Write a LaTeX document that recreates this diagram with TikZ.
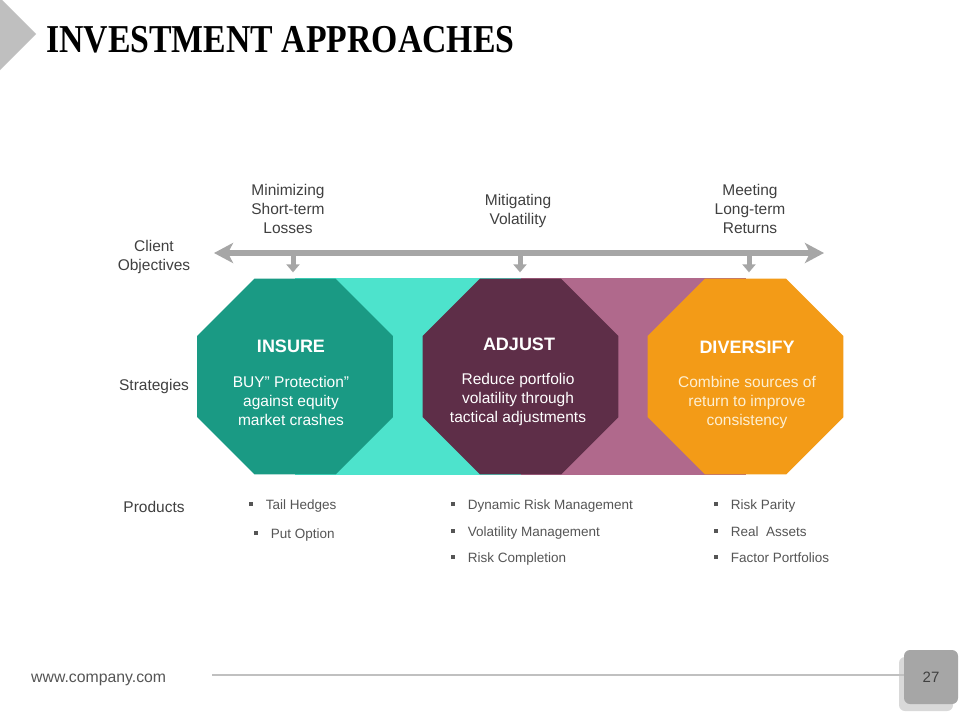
\documentclass[tikz,border=0pt]{standalone}
\usepackage{fontspec}
\setmainfont{Liberation Sans}
\newfontfamily\titlefont{Liberation Serif}
\usetikzlibrary{arrows.meta,shapes.geometric}
\definecolor{tealA}{HTML}{1A9A84}
\definecolor{cyanA}{HTML}{4DE3CC}
\definecolor{plumA}{HTML}{5E2E48}
\definecolor{mauveA}{HTML}{B0698C}
\definecolor{orangeA}{HTML}{F39B17}
\definecolor{creamA}{HTML}{FDEFD2}
\definecolor{txtgray}{HTML}{404040}
\definecolor{prodgray}{HTML}{555555}
\definecolor{arrgray}{HTML}{A6A6A6}
\definecolor{chevgray}{HTML}{BFBFBF}
\definecolor{linegray}{HTML}{C0C0C0}
\definecolor{boxgray}{HTML}{A6A6A6}
\definecolor{shadgray}{HTML}{D9D9D9}
\tikzset{
  lbl/.style={text=txtgray, font=\fontsize{15.5}{19}\selectfont, align=center, inner sep=0},
  octo/.style={regular polygon, regular polygon sides=8, minimum size=212pt, inner sep=0, draw=none},
  octtitle/.style={font=\bfseries\fontsize{18}{22}\selectfont, text=white, inner sep=0},
  octbody/.style={font=\fontsize{15.5}{19}\selectfont, align=center, inner sep=0},
  prod/.style={font=\fontsize{13.5}{16}\selectfont, text=prodgray, anchor=base west, inner sep=0},
  mainarrow/.style={draw=arrgray, line width=6pt, {Stealth[length=19pt,width=20pt,inset=5pt]}-{Stealth[length=19pt,width=20pt,inset=5pt]}},
  downarrow/.style={draw=arrgray, line width=5pt, -{Triangle[length=8pt,width=13pt]}},
  pagebox/.style={fill=boxgray, rounded corners=6pt, minimum width=54pt, minimum height=54pt, inner sep=0, text=txtgray, font=\fontsize{15}{18}\selectfont},
}
\newcommand{\bsq}{\raisebox{3pt}{\rule{3.6pt}{3.8pt}}\hspace{13pt}}
\begin{document}
\begin{tikzpicture}[x=1pt,y=-1pt]
\useasboundingbox (0,0) rectangle (960,720);
\fill[white] (0,0) rectangle (960,720);
% title chevron
\fill[chevgray] (0,-2) -- (36,34) -- (0,70) -- cycle;
\node[anchor=base west, inner sep=0, font=\titlefont\bfseries\fontsize{39.5}{44}\selectfont] (title) at (46,52) {\scalebox{0.855}[1]{INVESTMENT APPROACHES}};

% octagons and bands
\node[octo] (ins) at (295,376.5) {};
\node[octo] (adj) at (520.5,376.5) {};
\node[octo] (div) at (745.5,376.5) {};
\fill[cyanA] (ins.center |- ins.north) rectangle (adj.center |- adj.south);
\fill[mauveA] (adj.center |- adj.north) rectangle (div.center |- div.south);
\node[octo, fill=tealA] at (ins) {};
\node[octo, fill=plumA] at (adj) {};
\node[octo, fill=orangeA] at (div) {};

\node[octtitle] (insT) at (291,346) {INSURE};
\node[octbody, text=white] (insB) at (291,401) {BUY” Protection”\\against equity\\market crashes};
\node[octtitle] (adjT) at (519,344) {ADJUST};
\node[octbody, text=white] (adjB) at (518,399) {Reduce portfolio\\volatility through\\tactical adjustments};
\node[octtitle] (divT) at (747,347) {DIVERSIFY};
\node[octbody, text=creamA] (divB) at (747,402) {Combine sources of\\return to improve\\consistency};

% objectives
\node[lbl] (o1) at (288,209) {Minimizing\\Short-term\\Losses};
\node[lbl] (o2) at (518,211) {Mitigating\\Volatility};
\node[lbl] (o3) at (750,209) {Meeting\\Long-term\\Returns};
\node[lbl] (cl) at (154,256.5) {Client\\Objectives};
\node[lbl] (st) at (154,386.5) {Strategies};
\node[lbl] (pr) at (154,506.5) {Products};

% arrows
\coordinate (aL) at (214,253);
\coordinate (aR) at (824,253);
\draw[mainarrow] (aL) -- (aR);
\coordinate (d1) at (293,254);
\coordinate (d2) at (520,254);
\coordinate (d3) at (749,254);
\draw[downarrow] (d1) -- ([yshift=6pt]d1 |- ins.north);
\draw[downarrow] (d2) -- ([yshift=6pt]d2 |- adj.north);
\draw[downarrow] (d3) -- ([yshift=6pt]d3 |- div.north);

% products
\node[prod] (p11) at (249,509) {\bsq Tail Hedges};
\node[prod] (p12) at (254,538) {\bsq Put Option};
\node[prod] (p21) at (451,509) {\bsq Dynamic Risk Management};
\node[prod] (p22) at (451,536) {\bsq Volatility Management};
\node[prod] (p23) at (451,562) {\bsq Risk Completion};
\node[prod] (p31) at (714,509) {\bsq Risk Parity};
\node[prod] (p32) at (714,536) {\bsq Real \ Assets};
\node[prod] (p33) at (714,562) {\bsq Factor Portfolios};

% footer
\node[anchor=base west, inner sep=0, text=prodgray, font=\fontsize{15.8}{18}\selectfont] (web) at (31,682) {www.company.com};
\fill[shadgray, rounded corners=6pt] (899,657) rectangle (953,711);
\node[pagebox] (pg) at (931,677) {27};
\coordinate (fl) at (212,675);
\draw[linegray, line width=1.5pt] (fl) -- (fl -| pg.west);
\end{tikzpicture}
\end{document}
